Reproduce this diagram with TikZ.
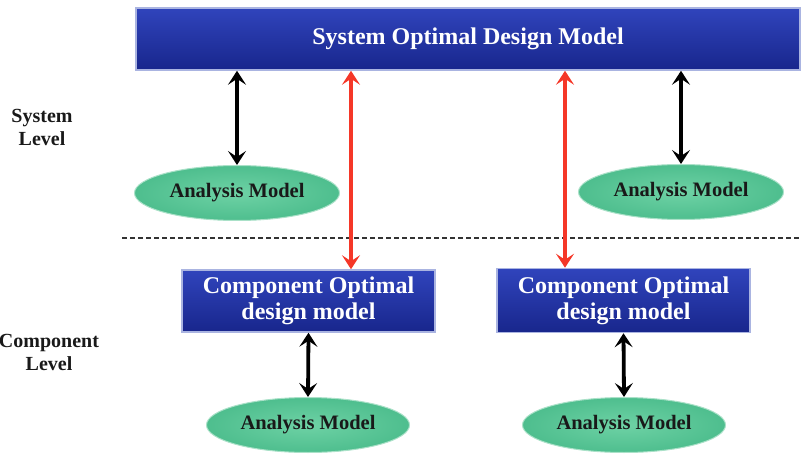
\documentclass[tikz,border=0pt]{standalone}
\usepackage{fontspec}
\setmainfont{Liberation Serif}
\usetikzlibrary{shapes.geometric,arrows.meta}
\definecolor{boxtop}{RGB}{48,68,188}
\definecolor{boxbot}{RGB}{24,38,140}
\definecolor{boxedge}{RGB}{170,180,225}
\definecolor{ellfill}{RGB}{78,190,142}
\definecolor{ellin}{RGB}{110,210,165}
\definecolor{elledge}{RGB}{170,225,200}
\definecolor{redarr}{RGB}{245,55,40}
\definecolor{txtdark}{RGB}{25,25,25}
\tikzset{
  bluebox/.style={rectangle, top color=boxtop, bottom color=boxbot, draw=boxedge, line width=1.5pt,
    inner sep=0pt, text=white, font=\bfseries, align=center},
  anaell/.style={ellipse, inner color=ellin, outer color=ellfill, draw=elledge, line width=1pt, inner sep=0pt,
    minimum width=205pt, minimum height=55pt, font=\fontsize{20.5}{22}\selectfont\bfseries, text=txtdark},
  lvl/.style={font=\fontsize{20}{23}\selectfont\bfseries, text=txtdark, align=center},
  tip/.style={Stealth[length=14pt,width=18pt,inset=6pt]},
  blkarrow/.style={line width=3.8pt, black, {Stealth[length=14pt,width=18pt,inset=6pt]}-{Stealth[length=14pt,width=18pt,inset=6pt]}},
  redarrow/.style={line width=3.6pt, redarr, {Stealth[length=14pt,width=18pt,inset=6pt]}-{Stealth[length=14pt,width=18pt,inset=6pt]}},
  sep/.style={line width=1.8pt, black!80, dash pattern=on 5pt off 3pt}
}
\begin{document}
\begin{tikzpicture}[x=1pt,y=-1pt]
\useasboundingbox (0,0) rectangle (808,462);
\node[bluebox, minimum width=664pt, minimum height=62pt, font=\fontsize{24}{26}\selectfont\bfseries] (sys) at (468,39) {System Optimal Design Model};
\node[anaell] (ana1) at (237,193) {Analysis Model};
\node[anaell] (ana2) at (681,192) {Analysis Model};
\node[bluebox, minimum width=253pt, minimum height=62pt, font=\fontsize{24}{26}\selectfont\bfseries] (comp1) at (308.5,301) {Component Optimal\\design model};
\node[bluebox, minimum width=253pt, minimum height=64pt, font=\fontsize{24}{26}\selectfont\bfseries] (comp2) at (623.5,300.5) {Component Optimal\\design model};
\node[anaell, minimum width=203pt] (ana3) at (308,425) {Analysis Model};
\node[anaell, minimum width=203pt] (ana4) at (624,425) {Analysis Model};
\node[lvl] (lsys) at (42,127) {System\\Level};
\node[lvl] (lcomp) at (49,352) {Component\\Level};
\coordinate (dl) at (122,238);
\coordinate (dr) at (800,238);
\draw[sep] (dl) -- (dr);
\coordinate (r1) at (351,0);
\coordinate (r2) at (565,0);
\draw[blkarrow] (ana1.north |- sys.south) -- (ana1.north);
\draw[blkarrow] (ana2.north |- sys.south) -- (ana2.north);
\draw[redarrow] (sys.south -| r1) -- (comp1.north -| r1);
\draw[redarrow] (sys.south -| r2) -- (comp2.north -| r2);
\draw[blkarrow] (comp1.south) -- (ana3.north);
\draw[blkarrow] (comp2.south) -- (ana4.north);
\end{tikzpicture}
\end{document}
